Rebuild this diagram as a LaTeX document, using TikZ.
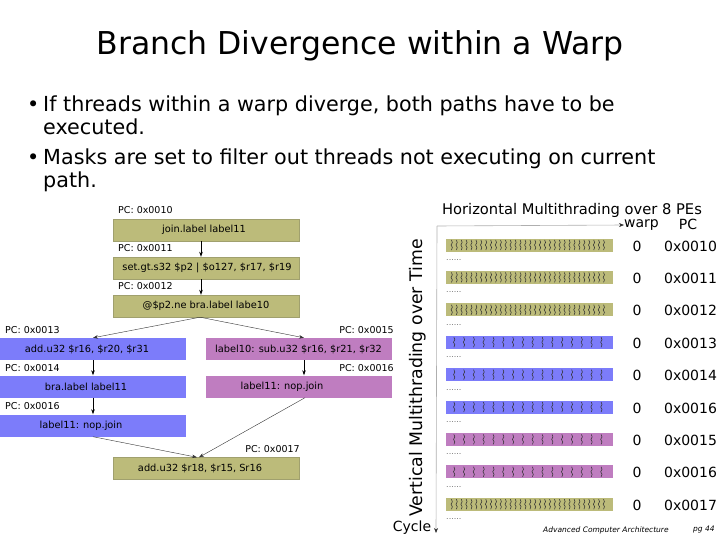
\documentclass[tikz,border=0pt]{standalone}
\usepackage{fontspec}
\setmainfont{DejaVu Sans}
\usetikzlibrary{arrows.meta}
\definecolor{olv}{RGB}{188,187,122}
\definecolor{olvd}{RGB}{160,160,110}
\definecolor{blu}{RGB}{124,124,250}
\definecolor{pur}{RGB}{191,125,192}
\definecolor{axisgray}{RGB}{175,175,175}
\begin{document}
\begin{tikzpicture}[x=1pt,y=-1pt,
  box/.style={minimum width=186pt,minimum height=22pt,inner sep=0pt},
  boxtxt/.style={inner sep=0pt,font=\fontsize{9.8}{11}\selectfont},
  pcl/.style={inner sep=0pt,font=\fontsize{9.5}{11}\selectfont},
  arr/.style={line width=0.7pt,-{Stealth[length=5pt,width=3.5pt]}},
  arrd/.style={line width=0.4pt,black!80,-{Stealth[length=5pt,width=3.5pt]}},
  axis/.style={line width=0.6pt,axisgray,-{Stealth[length=5pt,width=4pt,black!80]}},
  bar/.style={minimum width=167pt,minimum height=13pt,inner sep=0pt},
  thr/.style={line width=0.55pt,black!80},
  num/.style={inner sep=0pt,font=\fontsize{14}{16}\selectfont},
  dotsty/.style={inner sep=0pt,font=\fontsize{8}{9}\selectfont,black!55},
  bul/.style={inner sep=0pt,anchor=base west,font=\fontsize{20.7}{24}\selectfont}]
\useasboundingbox (0,0) rectangle (720,540);

% title and bullets
\node[inner sep=0pt,anchor=base,font=\fontsize{31.5}{38}\selectfont] (title) at (360,55) {Branch Divergence within a Warp};
\node[bul] (bd1) at (27,112) {•};
\node[bul] (bt1) at (43,112) {If threads within a warp diverge, both paths have to be};
\node[bul] (bt2) at (43,135) {executed.};
\node[bul] (bd2) at (27,165) {•};
\node[bul] (bt3) at (43,165) {Masks are set to filter out threads not executing on current};
\node[bul] (bt4) at (43,188) {path.};

% left flow diagram
\node[box,fill=olv,draw=olvd,line width=0.4pt] (b1) at (206,230) {};
\node[box,fill=olv,draw=olvd,line width=0.4pt] (b2) at (206,268) {};
\node[box,fill=olv,draw=olvd,line width=0.4pt] (b3) at (206,306) {};
\node[box,fill=blu] (l1) at (93,349) {};
\node[box,fill=blu] (l2) at (93,386.5) {};
\node[box,fill=blu] (l3) at (93,425.5) {};
\node[box,fill=pur] (r1) at (299,349) {};
\node[box,fill=pur] (r2) at (299,386.5) {};
\node[box,fill=olv,draw=olvd,line width=0.4pt] (bt) at (206,468.5) {};

\node[boxtxt] (tb1) at (204,230) {join.label label11};
\node[boxtxt] (tb2) at (207,268) {set.gt.s32 \$p2 | \$o127, \$r17, \$r19};
\node[boxtxt] (tb3) at (206,306) {@\$p2.ne bra.label labe10};
\node[boxtxt] (tl1) at (87,349) {add.u32 \$r16, \$r20, \$r31};
\node[boxtxt] (tl2) at (86,386.5) {bra.label label11};
\node[boxtxt] (tl3) at (81,425.5) {label11: nop.join};
\node[boxtxt] (tr1) at (298.5,349) {label10: sub.u32 \$r16, \$r21, \$r32};
\node[boxtxt] (tr2) at (282,386.5) {label11: nop.join};
\node[boxtxt] (tbt) at (200,468.5) {add.u32 \$r18, \$r15, Sr16};

\node[pcl,anchor=west] (pc10) at (118,210) {PC: 0x0010};
\node[pcl,anchor=west] (pc11) at (118,248) {PC: 0x0011};
\node[pcl,anchor=west] (pc12) at (118,286) {PC: 0x0012};
\node[pcl,anchor=west] (pc13) at (5,330) {PC: 0x0013};
\node[pcl,anchor=west] (pc14) at (5,368) {PC: 0x0014};
\node[pcl,anchor=west] (pc16) at (5,406) {PC: 0x0016};
\node[pcl,anchor=east] (pc15) at (394,330) {PC: 0x0015};
\node[pcl,anchor=east] (pc16b) at (394,368) {PC: 0x0016};
\node[pcl,anchor=east] (pc17) at (300,449) {PC: 0x0017};

\draw[arr] ([xshift=-5pt]b1.south) -- ([xshift=-5pt]b2.north);
\draw[arr] ([xshift=-5pt]b2.south) -- ([xshift=-5pt]b3.north);
\draw[arrd] ([xshift=-6pt]b3.south) -- (l1.north);
\draw[arrd] ([xshift=-6pt]b3.south) -- ([xshift=5pt]r1.north);
\draw[arr] (l1.south) -- (l2.north);
\draw[arr] (l2.south) -- (l3.north);
\draw[arr] ([xshift=5pt]r1.south) -- ([xshift=5pt]r2.north);
\draw[arrd] (l3.south) -- ([xshift=-9pt]bt.north);
\draw[arrd] ([xshift=6pt]r2.south) -- ([xshift=-7pt]bt.north);

% right panel
\node[inner sep=0pt,font=\fontsize{14.7}{16}\selectfont] (htitle) at (572,210) {Horizontal Multithrading over 8 PEs};
\coordinate (origin) at (437,226);
\node[num,anchor=west] (warp) at (624,225) {warp};
\node[num] (pch) at (688,224) {PC};
\node[num] (cyc) at (412,528) {Cycle};
\coordinate (vend) at (436,533);
\draw[axis] (origin) -- (warp.west);
\draw[axis] (origin) -- (vend);
\node[inner sep=0pt,rotate=90,font=\fontsize{17.3}{19}\selectfont] (vlab) at (418,378) {Vertical Multithrading over Time};

\foreach \i/\col/\pc/\n in {0/olv/0x0010/32,1/olv/0x0011/32,2/olv/0x0012/32,3/blu/0x0013/16,4/blu/0x0014/16,5/blu/0x0016/16,6/pur/0x0015/16,7/pur/0x0016/16,8/olv/0x0017/32}{
  \pgfmathsetmacro\yy{245+32.4*\i}
  \pgfmathsetmacro\sp{157/\n}
  \node[bar,fill=\col] (bar\i) at (529.5,\yy) {};
  \foreach \k in {1,...,\n}{
    \pgfmathsetmacro\xx{449+\sp*(\k-0.5)}
    \draw[thr] (\xx,\yy-5) -- ++(0.9,2.5) -- ++(-1.3,2.5) -- ++(1.3,2.5) -- ++(-0.9,2.5);
  }
  \node[num] (w\i) at (637,\yy+1) {0};
  \node[num] (p\i) at (690.5,\yy+1) {\pc};
  \node[dotsty,anchor=west] (d\i) at (446,\yy+15) {......};
}

% footer
\node[inner sep=0pt,anchor=west,font=\fontsize{7.5}{9}\selectfont\itshape] (foot) at (543,530) {Advanced Computer Architecture};
\node[inner sep=0pt,anchor=west,font=\fontsize{7.5}{9}\selectfont\itshape] (pg) at (693,530) {pg 44};
\end{tikzpicture}
\end{document}
